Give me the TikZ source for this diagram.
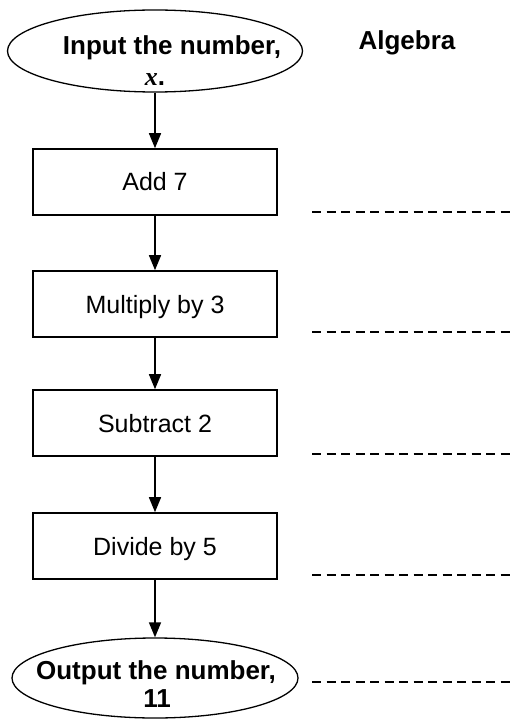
\documentclass[tikz,border=0pt]{standalone}
\usepackage{fontspec}
\setmainfont{Liberation Sans}
\newfontfamily\serifit{Liberation Serif}
\usetikzlibrary{shapes.geometric,arrows.meta}

\begin{document}
\begin{tikzpicture}[x=1pt,y=-1pt,
  stepbox/.style={draw, line width=1.6pt, minimum width=244pt, minimum height=66pt,
    inner sep=0pt, text height=18pt, text depth=0pt,
    font=\fontsize{25}{29}\selectfont},
  terminal/.style={draw, ellipse, line width=1.3pt, inner sep=0pt},
  boldtxt/.style={anchor=base, inner sep=0pt, font=\fontsize{26}{29}\selectfont\bfseries},
  flow/.style={line width=1.5pt, -{Triangle[length=15pt,width=12pt]}},
  blank/.style={line width=1.3pt, dash pattern=on 9pt off 5.5pt}]
\useasboundingbox (0,0) rectangle (513,719);

% start and end terminals
\node[terminal, minimum width=295pt, minimum height=82pt] (in) at (155,51) {};
\node[boldtxt] (inA) at (172,55) {Input the number,};
\node[boldtxt] (inB) at (155,86) {{\serifit\itshape x}.};

\node[terminal, minimum width=286pt, minimum height=80pt] (out) at (155,678) {};
\node[boldtxt] (outA) at (156,679) {Output the number,};
\node[boldtxt] (outB) at (157,707) {11};

\node[boldtxt] (title) at (407,50) {Algebra};

% operation steps
\node[stepbox] (s1) at (155,182) {Add 7};
\node[stepbox] (s2) at (155,304) {Multiply by 3};
\node[stepbox] (s3) at (155,423) {Subtract 2};
\node[stepbox] (s4) at (155,546) {Divide by 5};

% flow arrows
\draw[flow] (in) -- (s1);
\draw[flow] (s1) -- (s2);
\draw[flow] (s2) -- (s3);
\draw[flow] (s3) -- (s4);
\draw[flow] (s4) -- (out);

% answer lines
\foreach \k/\yy in {1/212, 2/332, 3/454, 4/575, 5/682} {
  \coordinate (a\k) at (312,\yy);
  \coordinate (b\k) at (513,\yy);
  \draw[blank] (a\k) -- (b\k);
}
\end{tikzpicture}
\end{document}
